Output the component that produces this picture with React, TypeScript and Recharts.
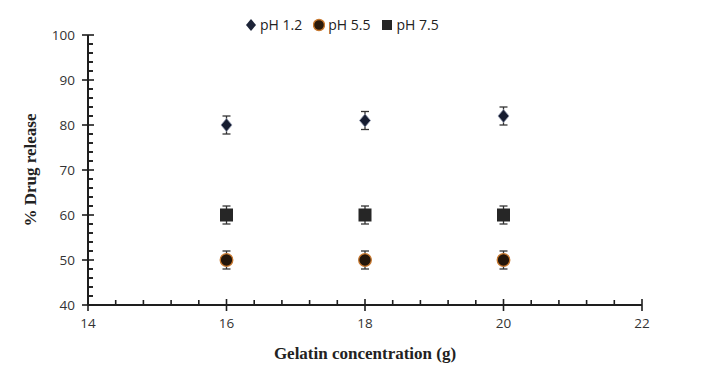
import React from "react";
import { ScatterChart, Scatter, XAxis, YAxis, ErrorBar } from "recharts";

const concentrations = [16, 18, 20];
const ph12Values = [80, 81, 82];
const ph55Values = [50, 50, 50];
const ph75Values = [60, 60, 60];
const ph12Errors = [2, 2, 2];
const ph55Errors = [2, 2, 2];
const ph75Errors = [2, 2, 2];

const xTicks: number[] = [];
for (let i = 0; i <= 20; i++) xTicks.push(Math.round((14 + i * 0.4) * 10) / 10);
const yTicks: number[] = [];
for (let v = 40; v <= 100; v += 2) yTicks.push(v);

const AXIS = "#1e1e1e";
const TICK_FONT = "'Open Sans', 'Liberation Sans', sans-serif";

// plot area geometry (chart 381 high, top margin 35, x axis 76)
const PLOT_H = 381 - 35 - 76;
const Y_MINOR_STEP = PLOT_H / (yTicks.length - 1);

const build = (vals: number[], errs: number[]) =>
  concentrations.map((c, i) => ({ x: c, y: vals[i], err: errs[i] }));

const ph12 = build(ph12Values, ph12Errors);
const ph55 = build(ph55Values, ph55Errors);
const ph75 = build(ph75Values, ph75Errors);

const Diamond = ({ cx, cy }: any) => (
  <path
    d={`M${cx},${cy - 6.5} L${cx + 5.5},${cy} L${cx},${cy + 6.5} L${cx - 5.5},${cy} Z`}
    fill="#151c30"
    stroke="#8a93aa"
    strokeWidth={0.8}
  />
);
const Circle = ({ cx, cy }: any) => (
  <circle cx={cx} cy={cy} r={6.3} fill="#24160a" stroke="#c7782f" strokeWidth={1.3} />
);
const Square = ({ cx, cy }: any) => (
  <rect x={cx - 6.5} y={cy - 6.5} width={13} height={13} fill="#262626" />
);

const XTick = ({ x, y, payload }: any) => {
  const v = payload.value;
  const major = Number.isInteger(v) && v % 2 === 0;
  return (
    <g>
      {major ? (
        <line x1={x} x2={x} y1={y - 6} y2={y + 6} stroke={AXIS} strokeWidth={1.6} />
      ) : (
        <line x1={x} x2={x} y1={y} y2={y - 5} stroke={AXIS} strokeWidth={1.6} />
      )}
      {major && (
        <text x={x} y={y + 23} textAnchor="middle" fontSize={13.5} fill="#333" fontFamily={TICK_FONT}>
          {v}
        </text>
      )}
    </g>
  );
};

const YTick = (props: any) => {
  const { x, y, payload } = props;
  const v = Number(payload.value);
  const major = v % 10 === 0;
  // minor ticks between this major and the next one up
  const minors = major && v < 100 ? [1, 2, 3, 4] : [];
  return (
    <g>
      <line
        x1={major ? x - 6 : x}
        x2={major ? x + 6 : x + 5}
        y1={y}
        y2={y}
        stroke={AXIS}
        strokeWidth={1.6}
      />
      {minors.map((k) => (
        <line
          key={k}
          x1={x}
          x2={x + 5}
          y1={y - k * Y_MINOR_STEP}
          y2={y - k * Y_MINOR_STEP}
          stroke={AXIS}
          strokeWidth={1.6}
        />
      ))}
      {major && (
        <text x={x - 13} y={y} dy={5} textAnchor="end" fontSize={13.5} fill="#333" fontFamily={TICK_FONT}>
          {v}
        </text>
      )}
    </g>
  );
};

const legendItems = [
  { label: "pH 1.2", icon: <path d="M6,1 L11,7 L6,13 L1,7 Z" fill="#1d2438" /> },
  { label: "pH 5.5", icon: <circle cx={6} cy={7} r={5.5} fill="#2a1a0c" stroke="#c7782f" strokeWidth={1.4} /> },
  { label: "pH 7.5", icon: <rect x={1} y={2} width={10} height={10} fill="#262626" /> },
];

export default function App() {
  return (
    <div style={{ position: "absolute", left: 0, top: 0, width: 706, height: 381, background: "#fff" }}>
      <div
        style={{
          position: "absolute",
          left: 245,
          top: 15,
          display: "flex",
          gap: 11,
          fontFamily: TICK_FONT,
          fontSize: 14,
          color: "#222",
        }}
      >
        {legendItems.map((it) => (
          <div key={it.label} style={{ display: "flex", alignItems: "center", gap: 3 }}>
            <svg width={12} height={14}>{it.icon}</svg>
            <span>{it.label}</span>
          </div>
        ))}
      </div>
      <ScatterChart width={706} height={381} margin={{ top: 35, right: 64, bottom: 0, left: 0 }}>
        <XAxis
          type="number"
          dataKey="x"
          domain={[14, 22]}
          ticks={xTicks}
          interval={0}
          tickSize={0}
          tickMargin={0}
          tickLine={false}
          axisLine={{ stroke: AXIS, strokeWidth: 2 }}
          tick={<XTick />}
          height={76}
        />
        <YAxis
          type="number"
          dataKey="y"
          domain={[40, 100]}
          ticks={yTicks}
          interval={0}
          tickSize={0}
          tickMargin={0}
          tickLine={false}
          axisLine={{ stroke: AXIS, strokeWidth: 2 }}
          tick={<YTick />}
          width={88}
        />
        <Scatter data={ph12} shape={<Diamond />} isAnimationActive={false}>
          <ErrorBar dataKey="err" direction="y" width={4} stroke="#333" strokeWidth={1.3} />
        </Scatter>
        <Scatter data={ph55} shape={<Circle />} isAnimationActive={false}>
          <ErrorBar dataKey="err" direction="y" width={4} stroke="#333" strokeWidth={1.3} />
        </Scatter>
        <Scatter data={ph75} shape={<Square />} isAnimationActive={false}>
          <ErrorBar dataKey="err" direction="y" width={4} stroke="#333" strokeWidth={1.3} />
        </Scatter>
        <text
          x={365}
          y={359}
          textAnchor="middle"
          fontFamily="'Liberation Serif', serif"
          fontWeight="bold"
          fontSize={17}
          fill="#222"
        >
          Gelatin concentration (g)
        </text>
        <text
          x={36}
          y={170}
          transform="rotate(-90 36 170)"
          textAnchor="middle"
          fontFamily="'Liberation Serif', serif"
          fontWeight="bold"
          fontSize={17}
          fill="#222"
        >
          % Drug release
        </text>
      </ScatterChart>
    </div>
  );
}
